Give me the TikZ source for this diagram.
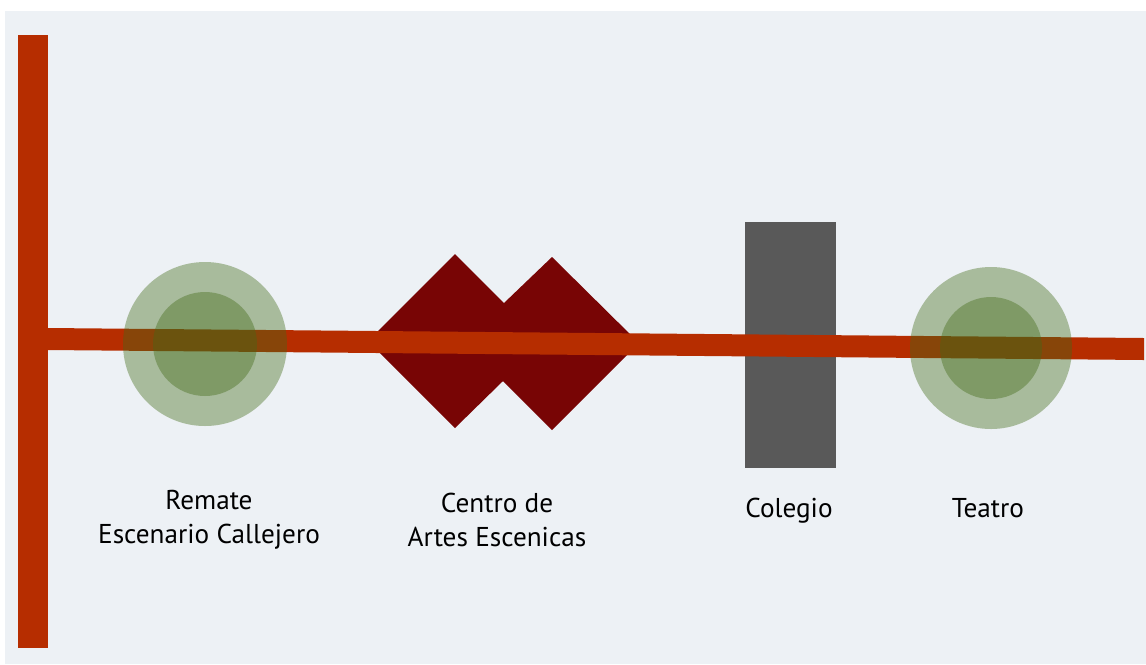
\documentclass[tikz,border=0pt]{standalone}
\usepackage{fontspec}
\setmainfont{PT Sans}
\usepackage{xcolor}
\definecolor{paper}{RGB}{237,241,245}
\definecolor{road}{RGB}{182,45,0}
\definecolor{wine}{RGB}{120,5,5}
\definecolor{block}{RGB}{89,89,89}
\definecolor{park}{RGB}{66,106,23}

\begin{document}
\begin{tikzpicture}[x=0.02cm, y=-0.02cm,
  lbl/.style={align=center, inner sep=0pt, font=\fontsize{15.5}{19.5}\selectfont},
  halo/.style={fill=park, fill opacity=0.4}]
  \useasboundingbox (0,0) rectangle (1146,664);
  \fill[white] (0,0) rectangle (1146,664);
  \fill[paper] (5,11) rectangle (1146,664);
  % calle principal
  \fill[road] (18,35) rectangle (48,648);
  \fill[block] (745,222) rectangle (836,468);
  \fill[wine] (368,341) -- (455,254) -- (504,303) -- (552,257) -- (639,343)
    -- (552,430) -- (503,381) -- (455,428) -- cycle;
  \fill[road] (48,328) -- (1144,338) -- (1144,360) -- (48,350) -- cycle;
  % plazas
  \fill[halo] (205,344) circle (82);
  \fill[halo] (205,344) circle (52);
  \fill[halo] (991,348) circle (81);
  \fill[halo] (991,348) circle (51);
  % etiquetas
  \node[lbl] (remate) at (209,520) {Remate\\Escenario Callejero};
  \node[lbl] (centro) at (497,520) {Centro de\\Artes Escenicas};
  \node[lbl, anchor=base] (colegio) at (789,517) {Colegio};
  \node[lbl, anchor=base] (teatro) at (988,517) {Teatro};
\end{tikzpicture}
\end{document}
